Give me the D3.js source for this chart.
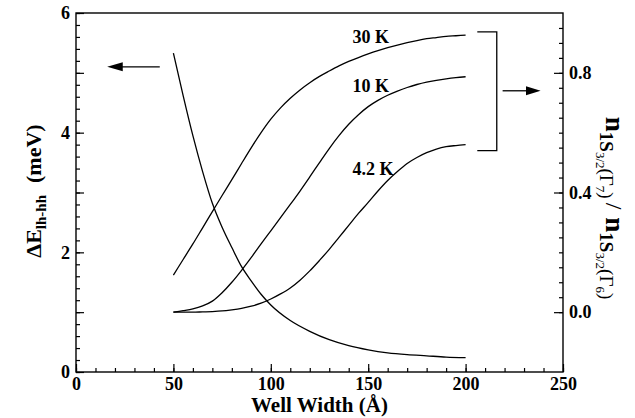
<!DOCTYPE html>
<html>
<head>
<meta charset="utf-8">
<script src="https://cdn.jsdelivr.net/npm/d3@7"></script>
<style>
  body { margin: 0; background: #fff; }
  text { font-family: "Liberation Serif", "Times New Roman", serif; font-weight: bold; fill: #000; }
</style>
</head>
<body>
<div class="chart"></div>
<script>
// data
const widthsE = [50,55,60,65,70,75,80,85,90,95,100,110,120,130,140,150,160,170,180,190,200];
const deltaE = [5.33,4.62,3.95,3.35,2.82,2.42,2.08,1.76,1.52,1.30,1.12,0.86,0.68,0.54,0.44,0.37,0.32,0.29,0.27,0.25,0.24];

const widths = [50,55,60,65,70,75,80,85,90,95,100,105,110,115,120,125,130,135,140,145,150,155,160,165,170,175,180,185,190,195,200];
const ratio30K = [0.124,0.176,0.228,0.282,0.336,0.39,0.443,0.497,0.55,0.60,0.645,0.683,0.715,0.743,0.767,0.788,0.806,0.823,0.838,0.851,0.863,0.874,0.884,0.893,0.901,0.908,0.914,0.918,0.922,0.924,0.926];
const ratio10K = [0.0,0.005,0.011,0.021,0.037,0.065,0.10,0.14,0.183,0.228,0.272,0.316,0.36,0.405,0.452,0.50,0.547,0.59,0.628,0.66,0.687,0.708,0.725,0.739,0.751,0.761,0.769,0.775,0.780,0.784,0.787];
const ratio4K = [0,0,0,0.001,0.002,0.004,0.008,0.013,0.02,0.03,0.044,0.061,0.081,0.107,0.138,0.173,0.21,0.25,0.29,0.33,0.367,0.405,0.44,0.47,0.497,0.517,0.533,0.545,0.553,0.557,0.56];

const seriesLabels = ['30 K', '10 K', '4.2 K'];
const xTicks = [0,50,100,150,200,250];
const yLeftTicks = [0,1,2,3,4,5,6];
const yRightTicks = [0.0,0.4,0.8];

const width = 635, height = 418;

const svg = d3.select('.chart')
    .append('svg')
    .attr('width', width)
    .attr('height', height);

const x = d3.scaleLinear().domain([0,250]).range([76,563]);
const yL = d3.scaleLinear().domain([0,6]).range([372,13]);
const yR = d3.scaleLinear().domain([-0.2,1.0]).range([372,13]);

// frame
svg.append('rect')
    .attr('x', x(0)).attr('y', yL(6))
    .attr('width', x(250)-x(0)).attr('height', yL(0)-yL(6))
    .attr('fill','none').attr('stroke','#000').attr('stroke-width',1.4);

function styleAxis(g) {
    g.select('.domain').remove();
    g.selectAll('line').attr('stroke','#000').attr('stroke-width',1.2);
    g.selectAll('text').attr('font-size',18).attr('font-family','Liberation Serif').attr('font-weight','bold');
}

// bottom axis
svg.append('g').attr('transform',`translate(0,${yL(0)})`)
    .call(d3.axisBottom(x).tickValues(d3.range(0,251,10)).tickSize(-4).tickFormat(''))
    .call(styleAxis);
svg.append('g').attr('transform',`translate(0,${yL(0)})`)
    .call(d3.axisBottom(x).tickValues(xTicks).tickSize(-8).tickPadding(5).tickFormat(d3.format('d')))
    .call(styleAxis);

// left axis
svg.append('g').attr('transform',`translate(${x(0)},0)`)
    .call(d3.axisLeft(yL).tickValues(d3.range(0,6.01,0.2)).tickSize(-4).tickFormat(''))
    .call(styleAxis);
svg.append('g').attr('transform',`translate(${x(0)},0)`)
    .call(d3.axisLeft(yL).tickValues(yLeftTicks).tickSize(-8).tickPadding(6).tickFormat(d => d % 2 === 0 ? d : ''))
    .call(styleAxis);

// right axis
svg.append('g').attr('transform',`translate(${x(250)},0)`)
    .call(d3.axisRight(yR).tickValues(d3.range(0,0.96,0.05)).tickSize(-4).tickFormat(''))
    .call(styleAxis);
svg.append('g').attr('transform',`translate(${x(250)},0)`)
    .call(d3.axisRight(yR).tickValues(yRightTicks).tickSize(-9).tickPadding(6).tickFormat(d3.format('.1f')))
    .call(styleAxis);

// curves
const lineE = d3.line().x((d,i) => x(widthsE[i])).y(d => yL(d)).curve(d3.curveMonotoneX);
const lineR = d3.line().x((d,i) => x(widths[i])).y(d => yR(d)).curve(d3.curveMonotoneX);

svg.append('path').attr('d', lineE(deltaE))
    .attr('fill','none').attr('stroke','#000').attr('stroke-width',1.3);

[ratio30K, ratio10K, ratio4K].forEach(s => {
    svg.append('path').attr('d', lineR(s))
        .attr('fill','none').attr('stroke','#000').attr('stroke-width',1.3);
});

// curve labels
const labelY = [0.90, 0.737, 0.46];
seriesLabels.forEach((t,i) => {
    svg.append('text').text(t)
        .attr('x', x(142)).attr('y', yR(labelY[i]))
        .attr('font-size',18);
});

// arrows and bracket
svg.append('line')
    .attr('x1', x(43)).attr('x2', x(22)).attr('y1', yL(5.1)).attr('y2', yL(5.1))
    .attr('stroke','#000').attr('stroke-width',1.3);
svg.append('path')
    .attr('d', `M${x(16)},${yL(5.1)} L${x(24)},${yL(5.1)-4.5} L${x(24)},${yL(5.1)+4.5} Z`)
    .attr('fill','#000');

svg.append('line')
    .attr('x1', x(219)).attr('x2', x(232)).attr('y1', yR(0.74)).attr('y2', yR(0.74))
    .attr('stroke','#000').attr('stroke-width',1.3);
svg.append('path')
    .attr('d', `M${x(238.5)},${yR(0.74)} L${x(231)},${yR(0.74)-4.5} L${x(231)},${yR(0.74)+4.5} Z`)
    .attr('fill','#000');

svg.append('path')
    .attr('d', `M${x(206)},${yR(0.937)} H${x(216)} V${yR(0.54)} H${x(206)}`)
    .attr('fill','none').attr('stroke','#000').attr('stroke-width',1.3);

// x title
svg.append('text')
    .attr('x', (x(0)+x(250))/2).attr('y', 412)
    .attr('text-anchor','middle').attr('font-size',21)
    .text('Well Width (Å)');

// left title
const lt = svg.append('text')
    .attr('transform','translate(41,191) rotate(-90)')
    .attr('text-anchor','middle').attr('font-size',22);
lt.append('tspan').text('ΔE');
lt.append('tspan').attr('font-size',15).attr('dy',5).text('lh-hh');
lt.append('tspan').attr('dy',-5).attr('dx',12).text('(meV)');

// right title
const rt = svg.append('text')
    .attr('transform','translate(606,208) rotate(90)')
    .attr('text-anchor','middle').attr('font-size',27);
function addN(first) {
    rt.append('tspan').attr('dx', first ? 0 : 8).text('n');
    rt.append('tspan').attr('font-size',19).attr('dy',6).text('1S');
    rt.append('tspan').attr('font-size',13).attr('font-weight','normal').attr('dy',4).text('3/2');
    rt.append('tspan').attr('font-size',19).attr('font-weight','normal').attr('dy',-4).text('(Γ');
    rt.append('tspan').attr('font-size',13).attr('font-weight','normal').attr('dy',4).text(first ? '7' : '6');
    rt.append('tspan').attr('font-size',19).attr('font-weight','normal').attr('dy',-4).text(')');
}
addN(true);
rt.append('tspan').attr('dy',-6).attr('font-size',24).attr('font-weight','normal').attr('dx',4).text('/');
addN(false);
</script>
</body>
</html>
